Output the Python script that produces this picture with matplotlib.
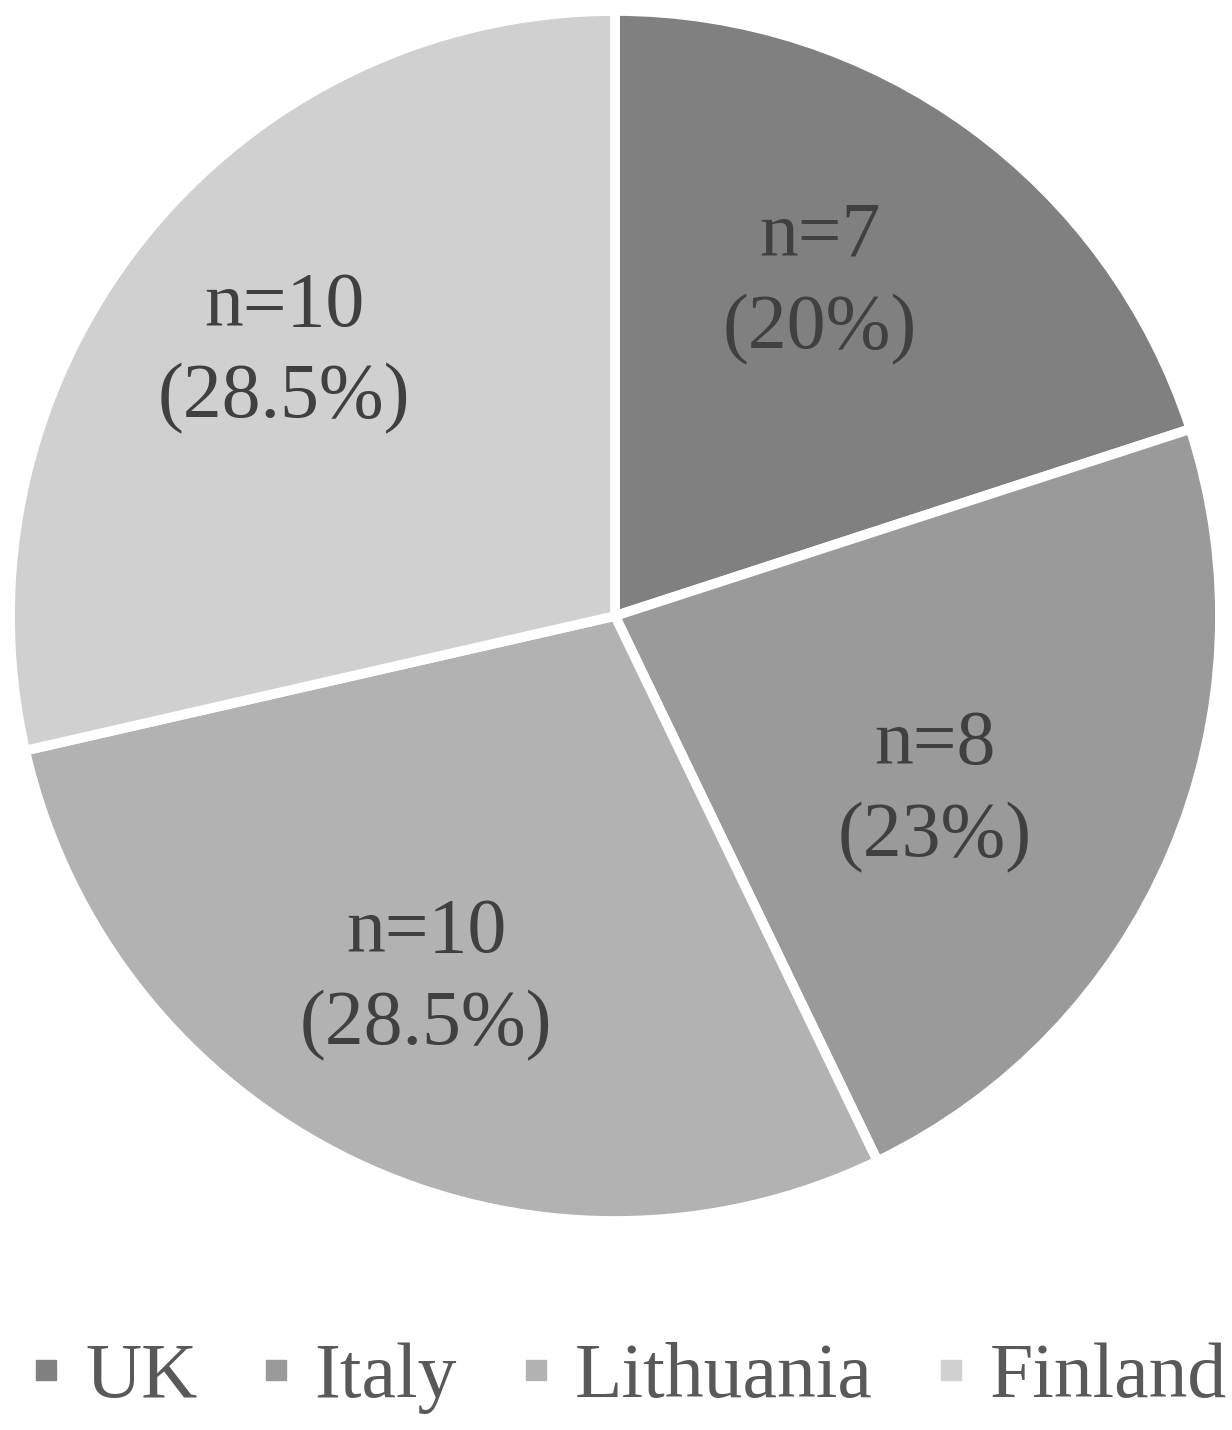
import matplotlib.pyplot as plt
from matplotlib.lines import Line2D

countries = ["UK", "Italy", "Lithuania", "Finland"]
counts = [7, 8, 10, 10]
pct_labels = ["20%", "23%", "28.5%", "28.5%"]
colors = ["#808080", "#9a9a9a", "#b2b2b2", "#d0d0d0"]

plt.rcParams["font.family"] = ["Liberation Serif", "DejaVu Serif"]

fig = plt.figure(figsize=(12.32, 14.30), dpi=100)
# 円グラフの領域 (中心 615,616 px / 半径 605 px)
ax = fig.add_axes([10 / 1232, (1430 - 616 - 605) / 1430, 1210 / 1232, 1210 / 1430])

wedges, _ = ax.pie(
    counts,
    colors=colors,
    startangle=90,
    counterclock=False,
    radius=1.0,
    wedgeprops=dict(edgecolor="white", linewidth=7),
)
ax.set_xlim(-1, 1)
ax.set_ylim(-1, 1)

# ラベル位置 (円の半径を1とした座標)
label_pos = [(0.339, 0.55), (0.529, -0.29), (-0.312, -0.60), (-0.547, 0.435)]
for (x, y), n, p in zip(label_pos, counts, pct_labels):
    ax.text(x, y, f"n={n}\n({p})",
            ha="center", va="center", fontsize=56, color="#404040",
            linespacing=1.38)

handles = [Line2D([], [], marker="s", linestyle="none", markersize=14,
                  markerfacecolor=c, markeredgecolor=c) for c in colors]
fig.legend(handles, countries, loc="center", ncol=4,
           bbox_to_anchor=(0.512, 0.036), frameon=False, fontsize=56,
           labelcolor="#595959", handletextpad=0.35, columnspacing=0.86,
           handlelength=0.3)

fig.savefig("out.png", dpi=100)
